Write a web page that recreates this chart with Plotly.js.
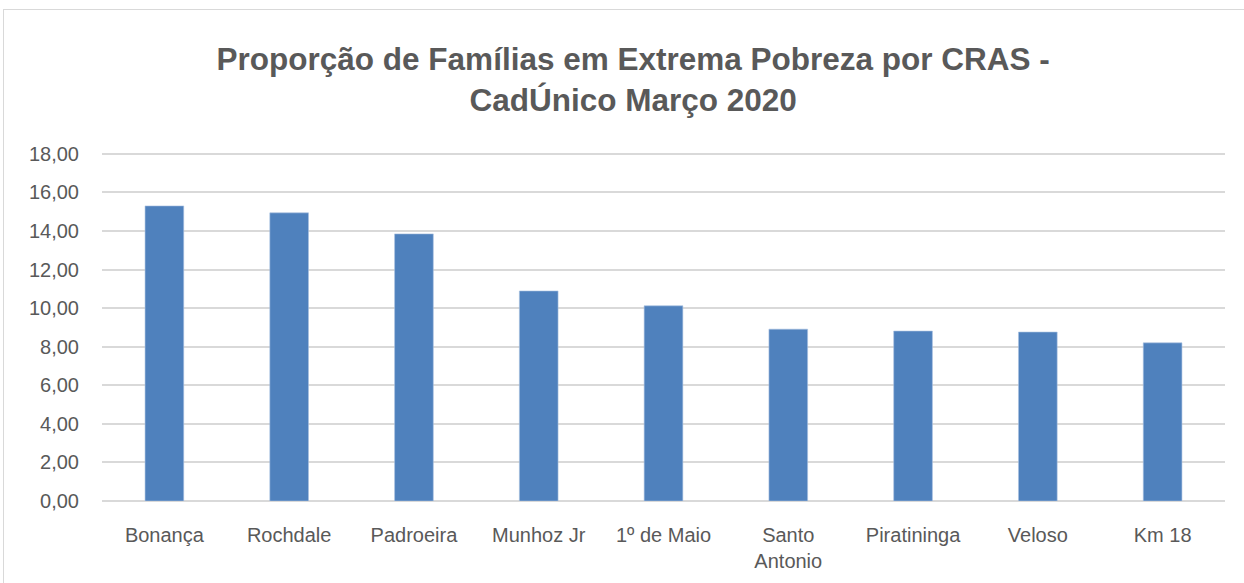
<!DOCTYPE html>
<html>
<head>
<meta charset="utf-8">
<script src="https://cdn.plot.ly/plotly-3.0.1.min.js"></script>
<style>
  html, body { margin: 0; padding: 0; background: #fff; }
  #frame { position: absolute; left: 3px; top: 9px; width: 1250px; height: 580px; border: 1px solid #d9d9d9; }
  #chart { position: absolute; left: 0; top: 0; width: 1244px; height: 583px; }
</style>
</head>
<body>
<div id="frame"></div>
<div id="chart"></div>
<script>
/* Proporção de famílias em extrema pobreza por CRAS — CadÚnico março 2020 */
const cras = ["Bonança", "Rochdale", "Padroeira", "Munhoz Jr", "1º de Maio",
              "Santo<br>Antonio", "Piratininga", "Veloso", "Km 18"];
const proporcao = [15.30, 14.94, 13.85, 10.89, 10.12, 8.91, 8.81, 8.76, 8.20];
const yTicks = [0, 2, 4, 6, 8, 10, 12, 14, 16, 18];

const FONT = "Liberation Sans, Arial, sans-serif";
const GREY = "#595959";

Plotly.newPlot("chart", [{
  type: "bar", x: cras, y: proporcao,
  marker: { color: "#4f81bd", line: { color: "#a9c1e0", width: 0.6 } },
  width: 0.31, hoverinfo: "x+y",
}], {
  width: 1244, height: 583,
  margin: { l: 102, r: 19, t: 150, b: 82 },
  paper_bgcolor: "rgba(0,0,0,0)", plot_bgcolor: "#fff",
  separators: ",.",
  font: { family: FONT, size: 20, color: GREY },
  title: {
    text: "<b>Proporção de Famílias em Extrema Pobreza por CRAS -<br>CadÚnico Março 2020</b>",
    x: 0.509, xanchor: "center", y: 0.88, yanchor: "middle",
    font: { family: FONT, size: 31.5, color: GREY },
  },
  xaxis: {
    type: "category", showgrid: false, zeroline: false,
    showline: false, ticks: "", tickangle: 0, ticklabelstandoff: 20,
    tickfont: { family: FONT, size: 20, color: GREY },
  },
  yaxis: {
    range: [0, 18.2], tickvals: yTicks, tickformat: ".2f",
    showgrid: true, gridcolor: "#d9d9d9", gridwidth: 1.5,
    zeroline: true, zerolinecolor: "#d9d9d9", zerolinewidth: 1.5,
    showline: false, ticks: "", ticklabelstandoff: 22,
    tickfont: { family: FONT, size: 20, color: GREY },
  },
  showlegend: false, bargap: 0.69,
}, { displayModeBar: false });
</script>
</body>
</html>
